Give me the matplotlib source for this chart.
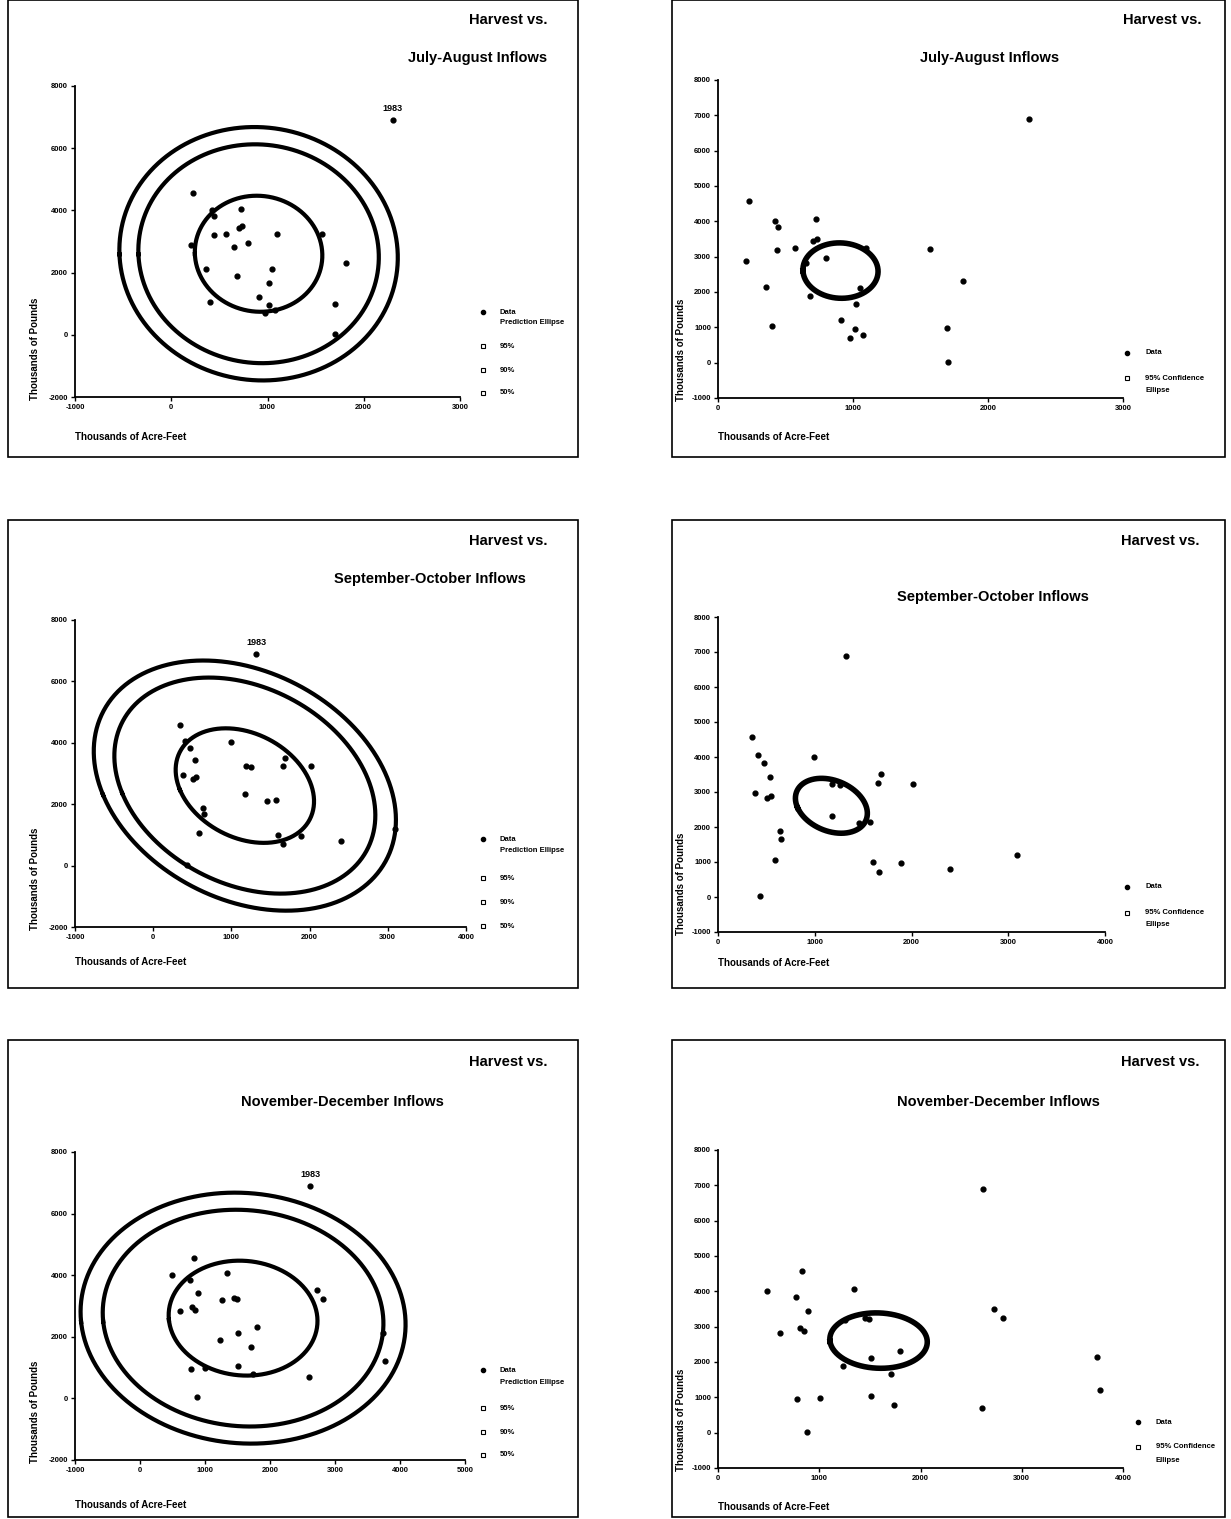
import numpy as np
import matplotlib
matplotlib.use('Agg')
from matplotlib import pyplot as plt
from matplotlib.lines import Line2D
from matplotlib.patches import Rectangle

plt.rcParams['font.family'] = ['Liberation Sans', 'DejaVu Sans']
plt.rcParams['font.weight'] = 'bold'
plt.rcParams['axes.unicode_minus'] = False

# harvest in thousands of pounds (same years in every panel)
harvest = [6900, 4570, 4060, 4010, 3830, 3510, 3430, 3250, 3240, 3230, 3200, 2960, 2880,
           2830, 2320, 2130, 2120, 1890, 1670, 1200, 1050, 990, 960, 790, 710, 30]
# inflows in thousands of acre-feet
jul_aug = [2300, 228, 724, 424, 442, 732, 706, 571, 1099, 1567, 440, 802, 204,
           655, 1815, 359, 1050, 678, 1019, 908, 398, 1699, 1016, 1073, 978, 1704]
sep_oct = [1320, 347, 413, 997, 471, 1685, 533, 1654, 2015, 1183, 1256, 382, 550,
           506, 1176, 1568, 1460, 636, 650, 3088, 588, 1602, 1895, 2397, 1661, 437]
nov_dec = [2620, 831, 1339, 485, 773, 2722, 892, 1452, 2815, 1494, 1256, 807, 847,
           617, 1797, 3739, 1515, 1231, 1705, 3769, 1515, 1003, 780, 1742, 2603, 881]
year_label = '1983'

seasons = ['July-August Inflows', 'September-October Inflows', 'November-December Inflows']
inflows = [jul_aug, sep_oct, nov_dec]
pred_levels = [0.95, 0.90, 0.50]
pred_labels = ['95%', '90%', '50%']
conf_level = 0.95

left_xticks = [[-1000, 0, 1000, 2000, 3000],
               [-1000, 0, 1000, 2000, 3000, 4000],
               [-1000, 0, 1000, 2000, 3000, 4000, 5000]]
right_xticks = [[0, 1000, 2000, 3000],
                [0, 1000, 2000, 3000, 4000],
                [0, 1000, 2000, 3000, 4000]]
left_yticks = [-2000, 0, 2000, 4000, 6000, 8000]
right_yticks = [-1000, 0, 1000, 2000, 3000, 4000, 5000, 6000, 7000, 8000]


def f_quantile_2(q, m):
    # F(2, m) quantile has a closed form
    return m / 2.0 * ((1 - q) ** (-2.0 / m) - 1)


def ellipse(x, y, scale):
    x = np.asarray(x, float)
    y = np.asarray(y, float)
    vals, vecs = np.linalg.eigh(np.cov(x, y))
    t = np.linspace(0, 2 * np.pi, 300)
    pts = vecs @ (np.sqrt(vals * scale)[:, None] * np.vstack([np.cos(t), np.sin(t)]))
    return x.mean() + pts[0], y.mean() + pts[1]


n = len(harvest)
pred_k = 2 * (n - 1) * (n + 1) / (n * (n - 2))
conf_k = 2 * (n - 1) / (n * (n - 2))

W, H = 1231, 1519
fig = plt.figure(figsize=(W / 100, H / 100), dpi=100)


def fx(x):
    return x / W


def fy(y):
    return 1 - y / H


def make_axes(x0, x1, ytop, ybot):
    return fig.add_axes([fx(x0), fy(ybot), (x1 - x0) / W, (ybot - ytop) / H])


def style(ax, xt, yt):
    ax.set_xlim(xt[0], xt[-1])
    ax.set_ylim(yt[0], yt[-1])
    ax.set_xticks(xt)
    ax.set_yticks(yt)
    for s in ['top', 'right']:
        ax.spines[s].set_visible(False)
    for s in ['left', 'bottom']:
        ax.spines[s].set_linewidth(1.3)
    ax.tick_params(length=3, width=1, labelsize=5.5, pad=2)
    for lab in ax.get_xticklabels() + ax.get_yticklabels():
        lab.set_fontweight('bold')
    ax.patch.set_alpha(0)


def legend(mx, tx, rows):
    for y, label, mk in rows:
        if mk == 'o':
            fig.add_artist(Line2D([fx(mx)], [fy(y)], marker='o', ms=3, color='black'))
        elif mk == 's':
            fig.add_artist(Line2D([fx(mx)], [fy(y)], marker='s', ms=2.5, mfc='white',
                                  mec='black', mew=0.8))
        fig.text(fx(tx), fy(y), label, fontsize=5.5, fontweight='bold', va='center')


# panel frames
frames = [(8, 0, 578, 457), (672, 0, 1225, 457),
          (8, 520, 578, 988), (672, 520, 1225, 988),
          (8, 1040, 578, 1517), (672, 1040, 1225, 1517)]
for x0, y0, x1, y1 in frames:
    fig.add_artist(Rectangle((fx(x0), fy(y1)), (x1 - x0) / W, (y1 - y0) / H,
                             fill=False, lw=1.2, ec='black'))

left_axes = [(75, 460, 86, 397), (75, 466, 620, 927), (75, 465, 1152, 1460)]
right_axes = [(718, 1123, 80, 398), (718, 1105, 617, 932), (718, 1123, 1150, 1468)]
left_titles = [(508, 20, 478, 58), (508, 541, 430, 579), (508, 1062, 342, 1102)]
right_titles = [(1162, 20, 990, 58), (1160, 541, 993, 597), (1160, 1062, 998, 1102)]
left_legend = [(312, 323, 346, 370, 393), (839, 851, 878, 902, 926), (1370, 1383, 1408, 1432, 1455)]
right_legend = [(1127, 353, 378, 390), (1127, 887, 913, 925), (1138, 1422, 1447, 1460)]
xlab_y = [(437, 437), (962, 963), (1505, 1507)]

for i in range(3):
    xs = inflows[i]

    # left: data with prediction ellipses
    x0, x1, yt, yb = left_axes[i]
    ax = make_axes(x0, x1, yt, yb)
    style(ax, left_xticks[i], left_yticks)
    for q in pred_levels:
        ex, ey = ellipse(xs, harvest, pred_k * f_quantile_2(q, n - 2))
        ax.plot(ex, ey, color='black', lw=3, clip_on=False)
    ax.scatter(xs, harvest, s=12, color='black', zorder=3, clip_on=False)
    ax.annotate(year_label, (xs[0], harvest[0]), xytext=(0, 5), textcoords='offset points',
                ha='center', va='bottom', fontsize=6.5, fontweight='bold')
    a, b, c, d = left_titles[i]
    fig.text(fx(a), fy(b), 'Harvest vs.', fontsize=10.5, fontweight='bold', ha='center', va='center')
    fig.text(fx(c), fy(d), seasons[i], fontsize=10.5, fontweight='bold', ha='center', va='center')
    fig.text(fx(x0), fy(xlab_y[i][0]), 'Thousands of Acre-Feet', fontsize=7,
             fontweight='bold', va='center')
    fig.text(fx(35), fy(yb + 3), 'Thousands of Pounds', fontsize=7, fontweight='bold',
             rotation=90, ha='center', va='bottom')
    r = left_legend[i]
    legend(483, 500, [(r[0], 'Data', 'o'), (r[1], 'Prediction Ellipse', None),
                      (r[2], pred_labels[0], 's'), (r[3], pred_labels[1], 's'),
                      (r[4], pred_labels[2], 's')])

    # right: data with 95% confidence ellipse of the mean
    x0, x1, yt, yb = right_axes[i]
    ax = make_axes(x0, x1, yt, yb)
    style(ax, right_xticks[i], right_yticks)
    ex, ey = ellipse(xs, harvest, conf_k * f_quantile_2(conf_level, n - 2))
    ax.plot(ex, ey, color='black', lw=4, clip_on=False)
    ax.scatter(xs, harvest, s=12, color='black', zorder=3, clip_on=False)
    a, b, c, d = right_titles[i]
    fig.text(fx(a), fy(b), 'Harvest vs.', fontsize=10.5, fontweight='bold', ha='center', va='center')
    fig.text(fx(c), fy(d), seasons[i], fontsize=10.5, fontweight='bold', ha='center', va='center')
    fig.text(fx(x0), fy(xlab_y[i][1]), 'Thousands of Acre-Feet', fontsize=7,
             fontweight='bold', va='center')
    fig.text(fx(681), fy(yb + 3), 'Thousands of Pounds', fontsize=7, fontweight='bold',
             rotation=90, ha='center', va='bottom')
    r = right_legend[i]
    legend(r[0], r[0] + 18, [(r[1], 'Data', 'o'), (r[2], '95% Confidence', 's'),
                             (r[3], 'Ellipse', None)])

fig.savefig('out.png', dpi=100)
